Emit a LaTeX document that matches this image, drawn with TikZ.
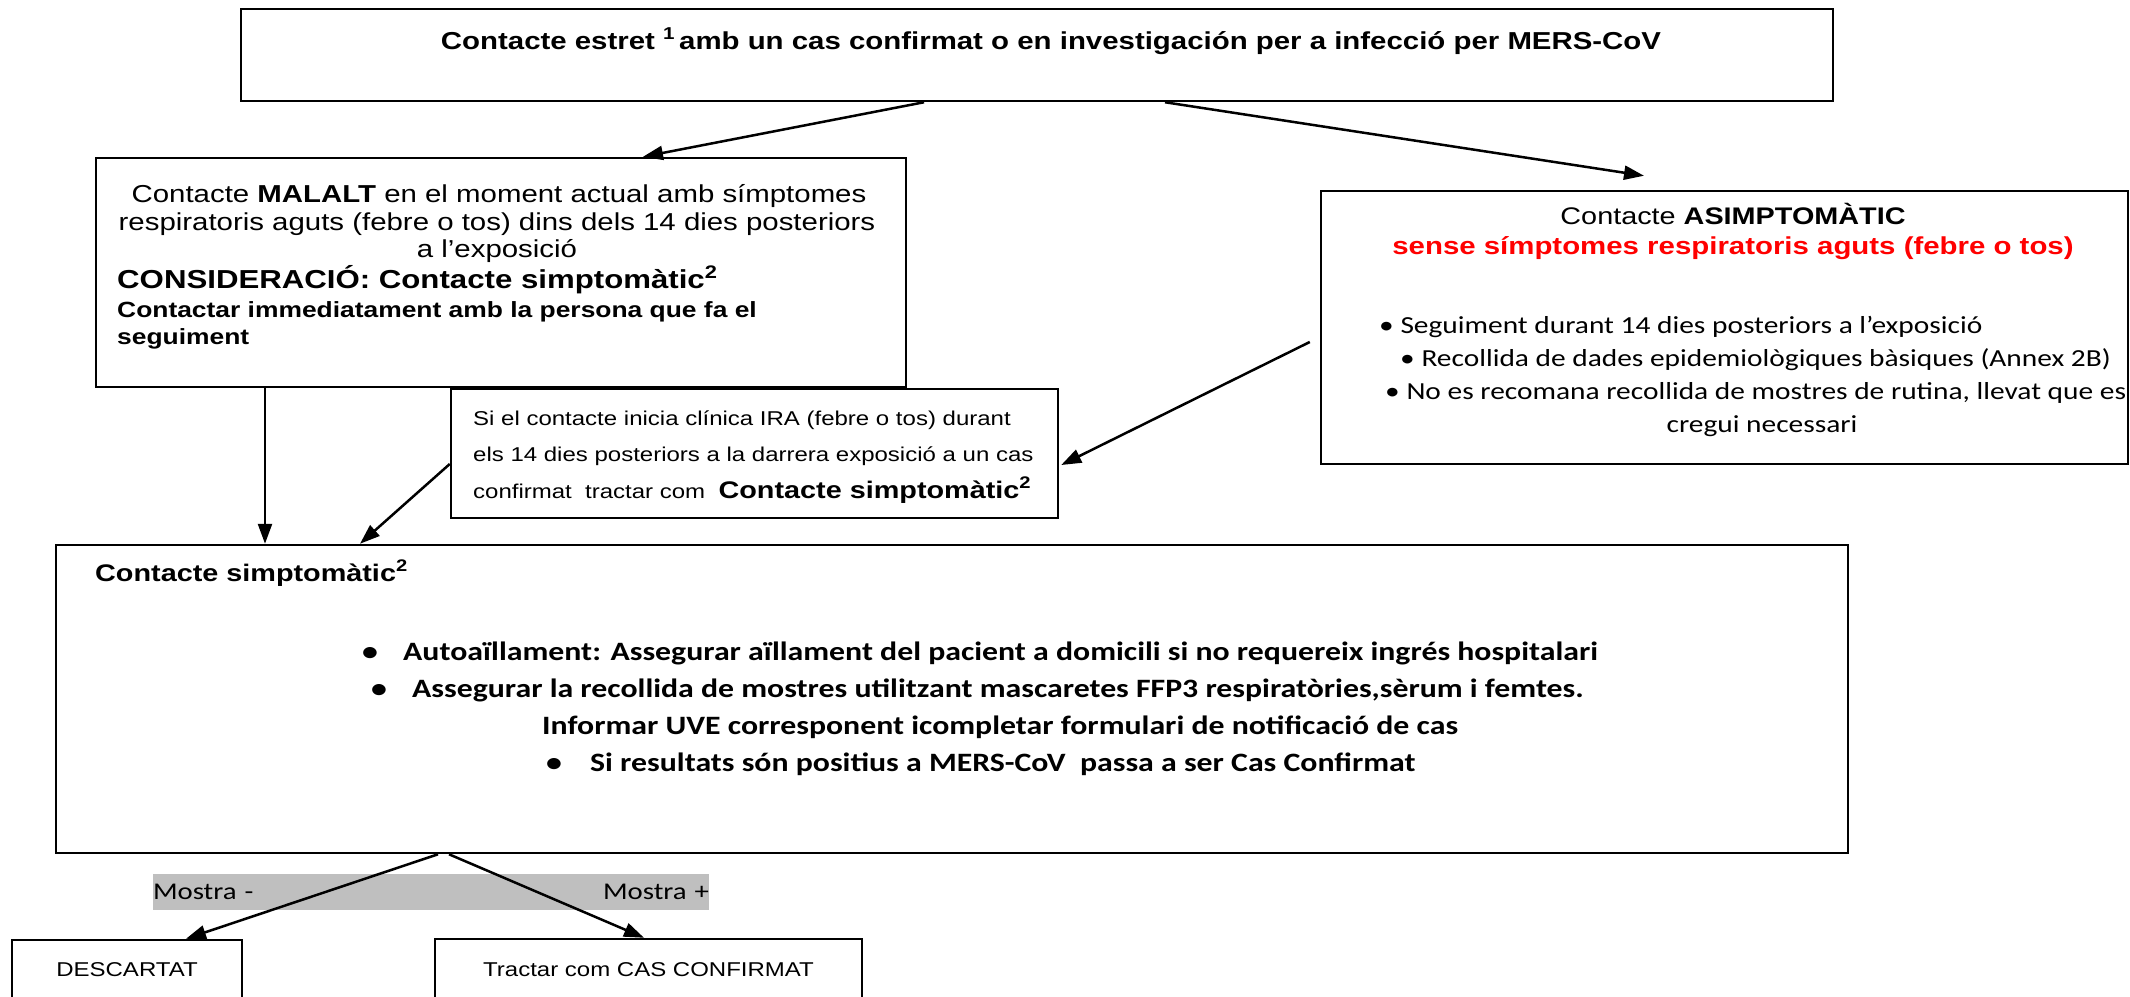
\documentclass[tikz,border=0pt]{standalone}
\usepackage{fontspec}
\setmainfont{Liberation Sans}[FakeStretch=1.2]
\newfontfamily\calibri{Carlito}[FakeStretch=1.2]
\usetikzlibrary{arrows.meta}

\newcommand{\pxfont}[1]{\fontsize{#1}{#1}\selectfont}

\begin{document}
\begin{tikzpicture}[x=1pt, y=-1pt,
		box/.style={draw, line width=2.5pt, inner sep=0pt, fill=white},
		arr/.style={line width=2.5pt, -{Triangle[length=20pt, width=14pt]}},
		txt/.style={inner sep=0pt, anchor=base west},
		ctr/.style={inner sep=0pt, anchor=base}]
	\useasboundingbox (0,0) rectangle (2130,996);

	% contacte estret
	\node[box, minimum width=1592pt, minimum height=92pt] (top) at (1037,55) {};
	\node[ctr, font=\bfseries\pxfont{24.5}] (top-t) at (1051,49) {Contacte estret \textsuperscript{1}\,amb un cas confirmat o en investigación per a infecció per MERS-CoV};

	% contacte malalt
	\node[box, minimum width=810pt, minimum height=229pt] (malalt) at (501,272.5) {};
	\node[ctr, font=\pxfont{24.5}] (malalt-1) at (499,202) {Contacte \textbf{MALALT} en el moment actual amb símptomes};
	\node[ctr, font=\pxfont{24.5}] (malalt-2) at (497,230) {respiratoris aguts (febre o tos) dins dels 14 dies posteriors};
	\node[ctr, font=\pxfont{24.5}] (malalt-3) at (497,257) {a l’exposició};
	\node[txt, font=\bfseries\pxfont{26}] (malalt-4) at (117,288) {CONSIDERACIÓ: Contacte simptomàtic\textsuperscript{2}};
	\node[txt, font=\bfseries\pxfont{22}] (malalt-5) at (117,317) {Contactar immediatament amb la persona que fa el};
	\node[txt, font=\bfseries\pxfont{22}] (malalt-6) at (117,344) {seguiment};

	% contacte asimptomatic
	\node[box, minimum width=807pt, minimum height=273pt] (asimp) at (1724.5,327.5) {};
	\node[ctr, font=\pxfont{24}] (asimp-1) at (1733,224) {Contacte \textbf{ASIMPTOMÀTIC}};
	\node[ctr, font=\bfseries\pxfont{24.5}, text=red] (asimp-2) at (1733,254) {sense símptomes respiratoris aguts (febre o tos)};
	\foreach \i/\x/\y/\t in {1/1379/333/{Seguiment durant 14 dies posteriors a l’exposició},
			2/1400/366/{Recollida de dades epidemiològiques bàsiques (Annex 2B)},
			3/1385/399/{No es recomana recollida de mostres de rutina, llevat que es}}
		\node[txt, font=\calibri\pxfont{24.5}] (asimp-b\i) at (\x,\y) {\textbullet\ \t};
	\node[ctr, font=\calibri\pxfont{24.5}] (asimp-b4) at (1762,432) {cregui necessari};

	% inici de clinica
	\node[box, minimum width=607pt, minimum height=129pt] (sicont) at (754.5,453.5) {};
	\node[txt, font=\pxfont{20}] (sicont-1) at (473,425) {Si el contacte inicia clínica IRA (febre o tos) durant};
	\node[txt, font=\pxfont{20}] (sicont-2) at (473,461) {els 14 dies posteriors a la darrera exposició a un cas};
	\node[txt, font=\pxfont{20}] (sicont-3) at (473,498) {confirmat\ \ tractar com\ \ {\bfseries\pxfont{24}Contacte simptomàtic\textsuperscript{2}}};

	% contacte simptomatic
	\node[box, minimum width=1792pt, minimum height=308pt] (simp) at (952,699) {};
	\node[txt, font=\bfseries\pxfont{24}] (simp-t) at (95,581) {Contacte simptomàtic\textsuperscript{2}};
	\node[txt, font=\calibri\bfseries\pxfont{26.5}] (simp-1) at (362,660) {\makebox[41pt][l]{\textbullet}Autoaïllament: Assegurar aïllament del pacient a domicili si no requereix ingrés hospitalari};
	\node[txt, font=\calibri\bfseries\pxfont{26.5}] (simp-2) at (371,697) {\makebox[41pt][l]{\textbullet}Assegurar la recollida de mostres utilitzant mascaretes FFP3 respiratòries,sèrum i femtes.};
	\node[txt, font=\calibri\bfseries\pxfont{26.5}] (simp-3) at (542,734) {Informar UVE corresponent icompletar formulari de notificació de cas};
	\node[txt, font=\calibri\bfseries\pxfont{26.5}] (simp-4) at (546,771) {\makebox[44pt][l]{\textbullet}Si resultats són positius a MERS-CoV\ \ passa a ser Cas Confirmat};

	% resultat de la mostra
	\node[fill=gray!50, inner sep=0pt, minimum height=36pt, text width=556pt, font=\calibri\pxfont{24}] (mostra) at (431,892) {Mostra -\hfill Mostra +};
	\node[box, minimum width=230pt, minimum height=60pt, font=\pxfont{20}] (desc) at (127,970) {DESCARTAT};
	\node[box, minimum width=427pt, minimum height=61pt, font=\pxfont{20}] (tractar) at (648.5,969.5) {Tractar com CAS CONFIRMAT};

	\draw[arr] ([xshift=-113pt]top.south) -- ([xshift=142pt]malalt.north);
	\draw[arr] ([xshift=128pt]top.south) -- ([xshift=-80.5pt,yshift=14pt]asimp.north);
	\draw[arr] ([xshift=-236pt]malalt.south) -- ([xshift=-687pt]simp.north);
	\draw[arr] ([yshift=-10.5pt]sicont.west) -- ([xshift=-592pt]simp.north);
	\draw[arr] ([xshift=-10pt,yshift=-14.5pt]asimp.west) -- ([xshift=2pt,yshift=-11.5pt]sicont.east);
	\draw[arr] ([xshift=-514pt]simp.south) -- ([xshift=59pt]desc.north);
	\draw[arr] ([xshift=-503pt]simp.south) -- ([xshift=-4.5pt]tractar.north);
\end{tikzpicture}
\end{document}
